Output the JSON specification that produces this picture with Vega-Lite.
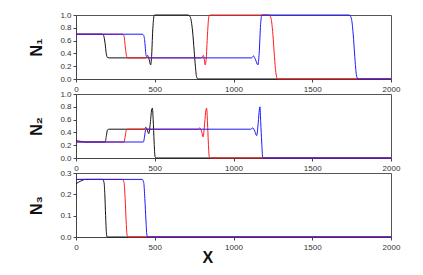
{
  "$schema": "https://vega.github.io/schema/vega-lite/v6.json",
  "background": "white",
  "padding": {"left": 28, "top": 10, "right": 5, "bottom": 5},
  "config": {
    "font": "Liberation Sans",
    "view": {"stroke": "#555", "strokeWidth": 1},
    "axis": {
      "grid": false,
      "domainColor": "#444",
      "tickColor": "#444",
      "tickSize": 3,
      "labelFontSize": 8,
      "labelColor": "#333",
      "labelFont": "Liberation Sans",
      "titleFont": "Liberation Sans",
      "titleFontSize": 16,
      "titleFontWeight": "bold",
      "titleColor": "#111"
    }
  },
  "datasets": {
    "d": [
      {"p": 1, "s": "k", "x": 0, "y": 0.70},
      {"p": 1, "s": "k", "x": 165, "y": 0.70},
      {"p": 1, "s": "k", "x": 175, "y": 0.68},
      {"p": 1, "s": "k", "x": 185, "y": 0.55},
      {"p": 1, "s": "k", "x": 192, "y": 0.40},
      {"p": 1, "s": "k", "x": 200, "y": 0.335},
      {"p": 1, "s": "k", "x": 210, "y": 0.33},
      {"p": 1, "s": "k", "x": 440, "y": 0.33},
      {"p": 1, "s": "k", "x": 455, "y": 0.34},
      {"p": 1, "s": "k", "x": 465, "y": 0.30},
      {"p": 1, "s": "k", "x": 474, "y": 0.22},
      {"p": 1, "s": "k", "x": 480, "y": 0.35},
      {"p": 1, "s": "k", "x": 487, "y": 0.75},
      {"p": 1, "s": "k", "x": 495, "y": 0.98},
      {"p": 1, "s": "k", "x": 500, "y": 1.0},
      {"p": 1, "s": "k", "x": 710, "y": 1.0},
      {"p": 1, "s": "k", "x": 725, "y": 0.97},
      {"p": 1, "s": "k", "x": 740, "y": 0.75},
      {"p": 1, "s": "k", "x": 750, "y": 0.45},
      {"p": 1, "s": "k", "x": 758, "y": 0.2},
      {"p": 1, "s": "k", "x": 766, "y": 0.03},
      {"p": 1, "s": "k", "x": 775, "y": 0},
      {"p": 1, "s": "k", "x": 2000, "y": 0},
      {"p": 1, "s": "r", "x": 0, "y": 0.70},
      {"p": 1, "s": "r", "x": 295, "y": 0.70},
      {"p": 1, "s": "r", "x": 305, "y": 0.67},
      {"p": 1, "s": "r", "x": 313, "y": 0.50},
      {"p": 1, "s": "r", "x": 320, "y": 0.37},
      {"p": 1, "s": "r", "x": 328, "y": 0.33},
      {"p": 1, "s": "r", "x": 790, "y": 0.33},
      {"p": 1, "s": "r", "x": 800, "y": 0.34},
      {"p": 1, "s": "r", "x": 808, "y": 0.37},
      {"p": 1, "s": "r", "x": 815, "y": 0.30},
      {"p": 1, "s": "r", "x": 820, "y": 0.22},
      {"p": 1, "s": "r", "x": 826, "y": 0.30},
      {"p": 1, "s": "r", "x": 835, "y": 0.70},
      {"p": 1, "s": "r", "x": 843, "y": 0.97},
      {"p": 1, "s": "r", "x": 850, "y": 1.0},
      {"p": 1, "s": "r", "x": 1225, "y": 1.0},
      {"p": 1, "s": "r", "x": 1238, "y": 0.95},
      {"p": 1, "s": "r", "x": 1250, "y": 0.70},
      {"p": 1, "s": "r", "x": 1260, "y": 0.35},
      {"p": 1, "s": "r", "x": 1270, "y": 0.08},
      {"p": 1, "s": "r", "x": 1280, "y": 0},
      {"p": 1, "s": "r", "x": 2000, "y": 0},
      {"p": 1, "s": "b", "x": 0, "y": 0.70},
      {"p": 1, "s": "b", "x": 420, "y": 0.70},
      {"p": 1, "s": "b", "x": 430, "y": 0.68},
      {"p": 1, "s": "b", "x": 438, "y": 0.55},
      {"p": 1, "s": "b", "x": 443, "y": 0.40},
      {"p": 1, "s": "b", "x": 448, "y": 0.35},
      {"p": 1, "s": "b", "x": 455, "y": 0.37},
      {"p": 1, "s": "b", "x": 462, "y": 0.33},
      {"p": 1, "s": "b", "x": 1115, "y": 0.33},
      {"p": 1, "s": "b", "x": 1127, "y": 0.36},
      {"p": 1, "s": "b", "x": 1140, "y": 0.30},
      {"p": 1, "s": "b", "x": 1155, "y": 0.22},
      {"p": 1, "s": "b", "x": 1163, "y": 0.40},
      {"p": 1, "s": "b", "x": 1172, "y": 0.85},
      {"p": 1, "s": "b", "x": 1180, "y": 1.0},
      {"p": 1, "s": "b", "x": 1735, "y": 1.0},
      {"p": 1, "s": "b", "x": 1748, "y": 0.95},
      {"p": 1, "s": "b", "x": 1760, "y": 0.70},
      {"p": 1, "s": "b", "x": 1770, "y": 0.35},
      {"p": 1, "s": "b", "x": 1780, "y": 0.07},
      {"p": 1, "s": "b", "x": 1790, "y": 0},
      {"p": 1, "s": "b", "x": 2000, "y": 0},

      {"p": 2, "s": "k", "x": 0, "y": 0.27},
      {"p": 2, "s": "k", "x": 30, "y": 0.26},
      {"p": 2, "s": "k", "x": 60, "y": 0.25},
      {"p": 2, "s": "k", "x": 185, "y": 0.25},
      {"p": 2, "s": "k", "x": 193, "y": 0.35},
      {"p": 2, "s": "k", "x": 200, "y": 0.44},
      {"p": 2, "s": "k", "x": 210, "y": 0.45},
      {"p": 2, "s": "k", "x": 435, "y": 0.45},
      {"p": 2, "s": "k", "x": 443, "y": 0.48},
      {"p": 2, "s": "k", "x": 452, "y": 0.44},
      {"p": 2, "s": "k", "x": 462, "y": 0.38},
      {"p": 2, "s": "k", "x": 472, "y": 0.55},
      {"p": 2, "s": "k", "x": 480, "y": 0.75},
      {"p": 2, "s": "k", "x": 485, "y": 0.78},
      {"p": 2, "s": "k", "x": 490, "y": 0.60},
      {"p": 2, "s": "k", "x": 496, "y": 0.25},
      {"p": 2, "s": "k", "x": 502, "y": 0.02},
      {"p": 2, "s": "k", "x": 508, "y": 0},
      {"p": 2, "s": "k", "x": 2000, "y": 0},
      {"p": 2, "s": "r", "x": 0, "y": 0.25},
      {"p": 2, "s": "r", "x": 305, "y": 0.25},
      {"p": 2, "s": "r", "x": 312, "y": 0.33},
      {"p": 2, "s": "r", "x": 320, "y": 0.44},
      {"p": 2, "s": "r", "x": 330, "y": 0.45},
      {"p": 2, "s": "r", "x": 775, "y": 0.45},
      {"p": 2, "s": "r", "x": 785, "y": 0.47},
      {"p": 2, "s": "r", "x": 797, "y": 0.42},
      {"p": 2, "s": "r", "x": 807, "y": 0.33},
      {"p": 2, "s": "r", "x": 817, "y": 0.55},
      {"p": 2, "s": "r", "x": 825, "y": 0.75},
      {"p": 2, "s": "r", "x": 829, "y": 0.78},
      {"p": 2, "s": "r", "x": 835, "y": 0.55},
      {"p": 2, "s": "r", "x": 840, "y": 0.25},
      {"p": 2, "s": "r", "x": 846, "y": 0.02},
      {"p": 2, "s": "r", "x": 852, "y": 0},
      {"p": 2, "s": "r", "x": 2000, "y": 0},
      {"p": 2, "s": "b", "x": 0, "y": 0.25},
      {"p": 2, "s": "b", "x": 428, "y": 0.25},
      {"p": 2, "s": "b", "x": 435, "y": 0.33},
      {"p": 2, "s": "b", "x": 442, "y": 0.44},
      {"p": 2, "s": "b", "x": 450, "y": 0.45},
      {"p": 2, "s": "b", "x": 1110, "y": 0.45},
      {"p": 2, "s": "b", "x": 1122, "y": 0.47},
      {"p": 2, "s": "b", "x": 1135, "y": 0.42},
      {"p": 2, "s": "b", "x": 1147, "y": 0.35},
      {"p": 2, "s": "b", "x": 1157, "y": 0.55},
      {"p": 2, "s": "b", "x": 1164, "y": 0.75},
      {"p": 2, "s": "b", "x": 1168, "y": 0.80},
      {"p": 2, "s": "b", "x": 1173, "y": 0.55},
      {"p": 2, "s": "b", "x": 1179, "y": 0.25},
      {"p": 2, "s": "b", "x": 1185, "y": 0.02},
      {"p": 2, "s": "b", "x": 1190, "y": 0},
      {"p": 2, "s": "b", "x": 2000, "y": 0},

      {"p": 3, "s": "k", "x": 0, "y": 0.25},
      {"p": 3, "s": "k", "x": 30, "y": 0.262},
      {"p": 3, "s": "k", "x": 60, "y": 0.27},
      {"p": 3, "s": "k", "x": 168, "y": 0.27},
      {"p": 3, "s": "k", "x": 178, "y": 0.255},
      {"p": 3, "s": "k", "x": 183, "y": 0.20},
      {"p": 3, "s": "k", "x": 188, "y": 0.10},
      {"p": 3, "s": "k", "x": 193, "y": 0.02},
      {"p": 3, "s": "k", "x": 198, "y": 0},
      {"p": 3, "s": "k", "x": 2000, "y": 0},
      {"p": 3, "s": "r", "x": 0, "y": 0.27},
      {"p": 3, "s": "r", "x": 295, "y": 0.27},
      {"p": 3, "s": "r", "x": 305, "y": 0.255},
      {"p": 3, "s": "r", "x": 312, "y": 0.18},
      {"p": 3, "s": "r", "x": 318, "y": 0.08},
      {"p": 3, "s": "r", "x": 324, "y": 0.01},
      {"p": 3, "s": "r", "x": 330, "y": 0},
      {"p": 3, "s": "r", "x": 2000, "y": 0},
      {"p": 3, "s": "b", "x": 0, "y": 0.27},
      {"p": 3, "s": "b", "x": 420, "y": 0.27},
      {"p": 3, "s": "b", "x": 430, "y": 0.255},
      {"p": 3, "s": "b", "x": 437, "y": 0.18},
      {"p": 3, "s": "b", "x": 444, "y": 0.08},
      {"p": 3, "s": "b", "x": 450, "y": 0.01},
      {"p": 3, "s": "b", "x": 456, "y": 0},
      {"p": 3, "s": "b", "x": 2000, "y": 0}
    ]
  },
  "spacing": 15,
  "bounds": "flush",
  "vconcat": [
    {
      "width": 315,
      "height": 64,
      "data": {"name": "d"},
      "transform": [{"filter": "datum.p == 1"}],
      "mark": {"type": "line", "interpolate": "monotone", "strokeWidth": 1},
      "encoding": {
        "x": {"field": "x", "type": "quantitative", "scale": {"domain": [0, 2000]},
              "axis": {"title": null, "values": [0, 500, 1000, 1500, 2000], "format": "d", "labelFlush": false, "labelOverlap": false, "labelPadding": 3}},
        "y": {"field": "y", "type": "quantitative", "scale": {"domain": [0, 1]},
              "axis": {"title": "N₁", "titleAngle": 270, "values": [0, 0.2, 0.4, 0.6, 0.8, 1.0], "format": ".1f", "titlePadding": 15}},
        "color": {"field": "s", "type": "nominal", "scale": {"domain": ["k", "r", "b"], "range": ["#111111", "#ff1a1a", "#1a1aff"]}, "legend": null}
      }
    },
    {
      "width": 315,
      "height": 64,
      "data": {"name": "d"},
      "transform": [{"filter": "datum.p == 2"}],
      "mark": {"type": "line", "interpolate": "monotone", "strokeWidth": 1},
      "encoding": {
        "x": {"field": "x", "type": "quantitative", "scale": {"domain": [0, 2000]},
              "axis": {"title": null, "values": [0, 500, 1000, 1500, 2000], "format": "d", "labelFlush": false, "labelOverlap": false, "labelPadding": 3}},
        "y": {"field": "y", "type": "quantitative", "scale": {"domain": [0, 1]},
              "axis": {"title": "N₂", "titleAngle": 270, "values": [0, 0.2, 0.4, 0.6, 0.8, 1.0], "format": ".1f", "titlePadding": 15}},
        "color": {"field": "s", "type": "nominal", "scale": {"domain": ["k", "r", "b"], "range": ["#111111", "#ff1a1a", "#1a1aff"]}, "legend": null}
      }
    },
    {
      "width": 315,
      "height": 64,
      "data": {"name": "d"},
      "transform": [{"filter": "datum.p == 3"}],
      "mark": {"type": "line", "interpolate": "monotone", "strokeWidth": 1},
      "encoding": {
        "x": {"field": "x", "type": "quantitative", "scale": {"domain": [0, 2000]},
              "axis": {"title": "X", "titleX": 126, "titleY": 12, "titleBaseline": "top", "titleAnchor": "start", "values": [0, 500, 1000, 1500, 2000], "format": "d", "labelFlush": false, "labelOverlap": false, "labelPadding": 3}},
        "y": {"field": "y", "type": "quantitative", "scale": {"domain": [0, 0.3]},
              "axis": {"title": "N₃", "titleAngle": 270, "values": [0, 0.1, 0.2, 0.3], "format": ".1f", "titlePadding": 15}},
        "color": {"field": "s", "type": "nominal", "scale": {"domain": ["k", "r", "b"], "range": ["#111111", "#ff1a1a", "#1a1aff"]}, "legend": null}
      }
    }
  ]
}
